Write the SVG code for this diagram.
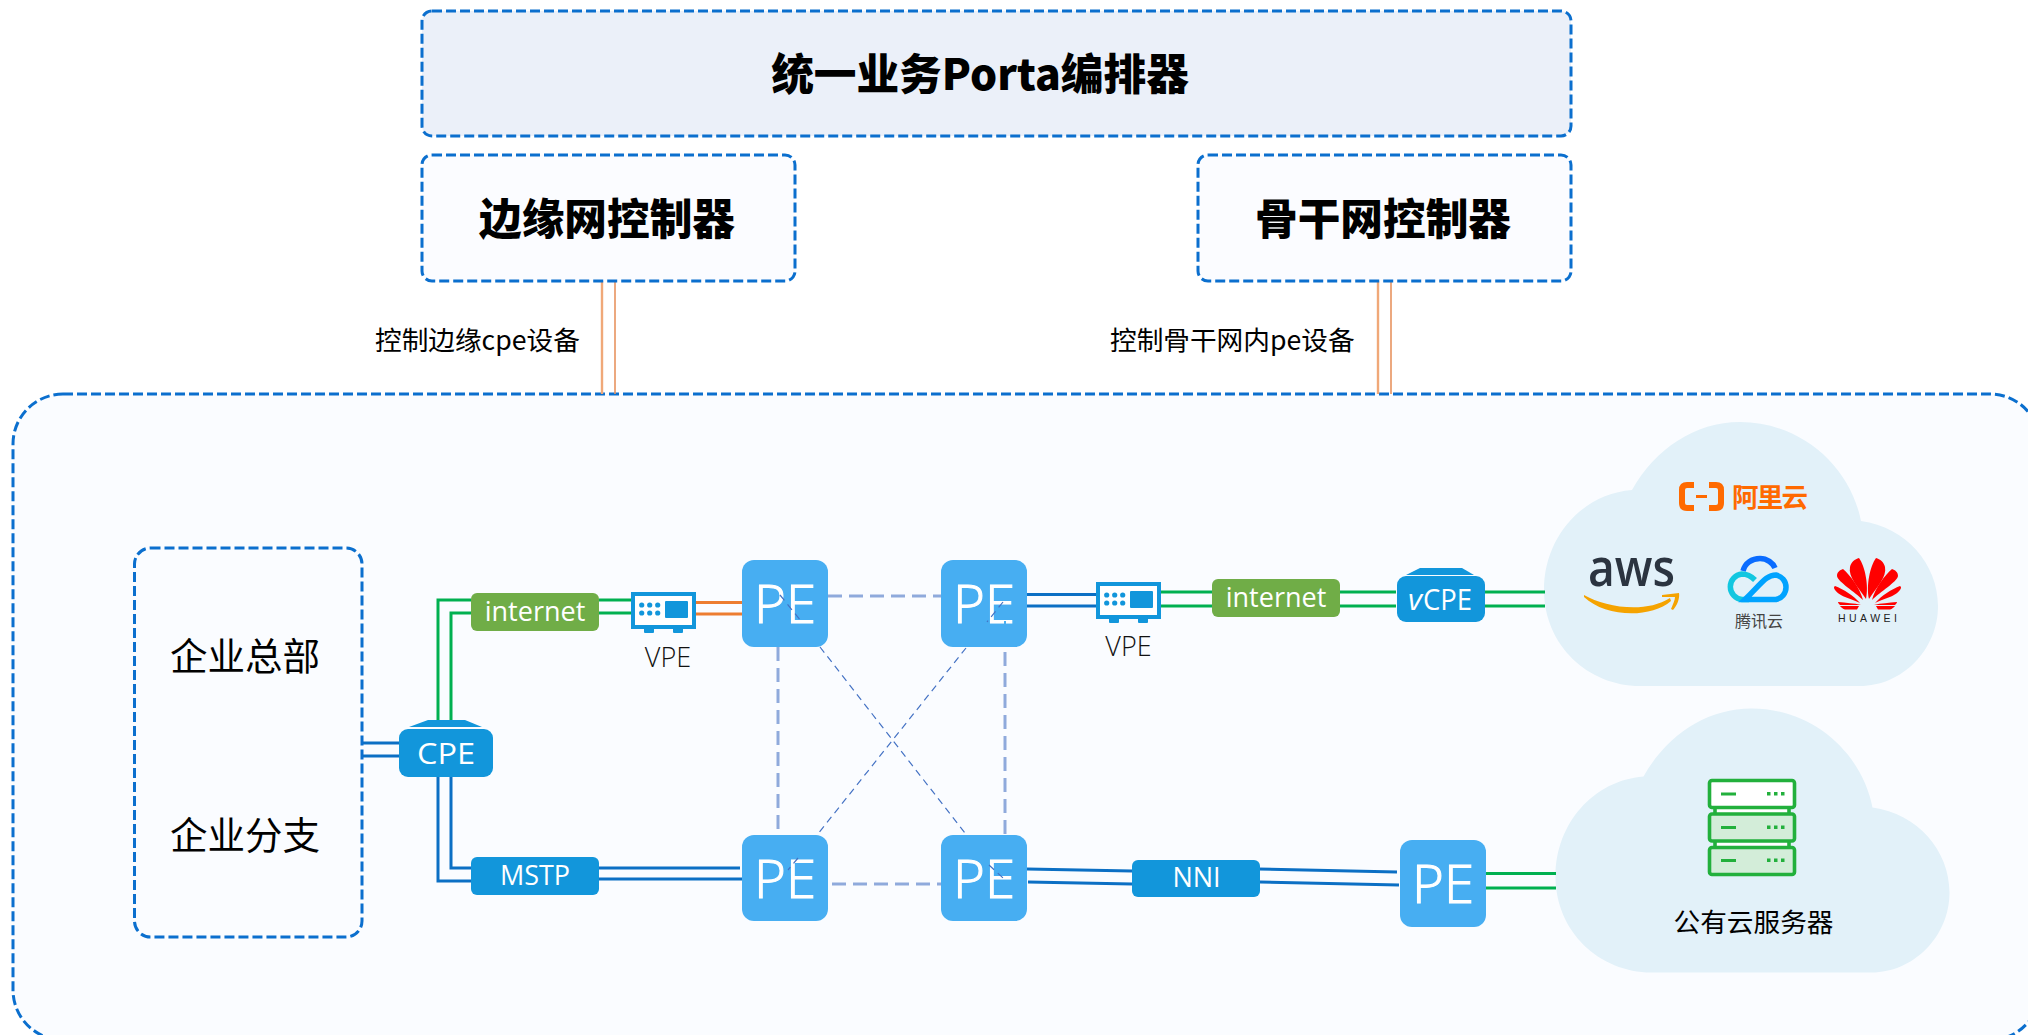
<svg xmlns="http://www.w3.org/2000/svg" width="2028" height="1035" viewBox="0 0 2028 1035">
<style>
text{font-family:"Noto Sans CJK SC","Noto Sans",sans-serif;fill:#000}
.box{stroke:#0b6fce;stroke-width:3;stroke-dasharray:10 4}
.title{font-size:42.67px;font-weight:900;text-anchor:middle}
.lab{font-size:26.67px;font-weight:400}
.big{font-size:37.5px;text-anchor:middle;font-weight:400}
.pill{font-family:"Open Sans","Noto Sans",sans-serif;font-size:27px;font-weight:400;fill:#fff;text-anchor:middle}
.vpe{font-family:"Open Sans","Noto Sans",sans-serif;font-size:27px;font-weight:300;fill:#111;text-anchor:middle}
.pe{fill:#47aef2}
.petxt{font-family:"Open Sans","Noto Sans",sans-serif;font-size:53px;font-weight:300;fill:#fff;stroke:#fff;stroke-width:1}
.cpetxt{font-family:"Open Sans","Noto Sans",sans-serif;font-size:30px;font-weight:400;fill:#fff}
.g{stroke:#00b050;stroke-width:3;fill:none}
.b{stroke:#0b6fc4;stroke-width:3;fill:none}
.o{stroke:#ed7d31;stroke-width:3;fill:none}
.d1{stroke:#8faadc;stroke-width:3;stroke-dasharray:14 7;fill:none}
.d2{stroke:#4472c4;stroke-width:1.2;stroke-dasharray:7 5;fill:none}
.blue{fill:#1296db}
.cloud{fill:#e2f1f9}
.srv{stroke:#22b03c;stroke-width:3.6}
.sg{fill:#22b03c}
</style>
<defs>
<path id="cloudp" d="M1640 686C1588 686 1544 645 1544 590C1544 537 1582 494 1632 490C1655 449 1695 422 1740 422C1800 422 1850 465 1861 521C1906 527 1938 564 1938 606C1938 650 1902 686 1860 686Z"/>
<g id="vpeicon">
<rect x="1098" y="584" width="61" height="33" fill="#fff" stroke="#1296db" stroke-width="4"/>
<rect x="1109" y="618" width="10" height="5" rx="1" class="blue"/><rect x="1138" y="618" width="10" height="5" rx="1" class="blue"/>
<rect x="1130" y="591" width="23" height="17" rx="1" class="blue"/>
<g class="blue"><circle cx="1106.7" cy="595" r="2.6"/><circle cx="1114.7" cy="595" r="2.6"/><circle cx="1122.7" cy="595" r="2.6"/><circle cx="1106.7" cy="603" r="2.6"/><circle cx="1114.7" cy="603" r="2.6"/><circle cx="1122.7" cy="603" r="2.6"/></g>
</g>
<g id="petals" fill="#f00">
<path d="M1866 599C1858 587 1848 577 1850 567C1851 562 1855 559 1859 558C1865 566 1869 586 1866 599Z"/>
<path d="M1863 600C1855 592 1838 582 1837 576C1837 572 1840 570 1843 569C1850 575 1860 588 1863 600Z"/>
<path d="M1860 603C1852 599 1837 596 1834 588C1834 587 1834 587 1835 586C1843 589 1854 596 1860 603Z"/>
<path d="M1861 605L1840 605C1839 604 1838 603 1838 602C1846 603 1854 603 1861 605ZM1857 609.500L1845 609.500C1843 609 1841 607 1840 606L1859 606Z"/>
</g>
</defs>

<rect width="2028" height="1035" fill="#fff"/>

<g id="bigzone"><rect class="box" x="13" y="394" width="2027" height="646" rx="50" fill="#fafcff"/></g>
<g id="cloud1"><use href="#cloudp" class="cloud"/></g>
<g id="cloud2"><use href="#cloudp" class="cloud" transform="translate(11.500 286.500)"/></g>

<g id="connectors">
<path d="M602 281V394" stroke="#f0a878" stroke-width="2.400" fill="none"/><path d="M615 281V394" stroke="#e8935f" stroke-width="1.600" fill="none"/>
<path d="M1378 281V394" stroke="#f0a878" stroke-width="2.400" fill="none"/><path d="M1391 281V394" stroke="#e8935f" stroke-width="1.600" fill="none"/>
<path class="g" d="M438 722V600H471M451 722V613H471M599 600H632M599 613H632"/>
<path class="o" d="M696 602.500H742M696 614H742"/>
<path class="b" d="M438 777V881H471M451 777V868H471M599 868H740M599 879H742M362 743H399M362 756H399"/>
<path class="b" d="M1027 594.500H1096M1027 606H1096"/>
<path class="g" d="M1158 592H1212M1158 606H1212M1340 592H1396M1340 606H1396M1484 592H1545M1484 606H1545"/>
<path class="b" d="M1027 869L1132 871M1028 882L1132 884M1258 869L1397 872M1260 882L1399 885"/>
<path class="g" d="M1486 873.500H1556M1486 888H1556"/>
<path class="d1" d="M828 596H941M832 884H941M778 647V835M1005 652V835"/>
<path class="d2" d="M820 647L965 833M966 648L817 835"/>
</g>

<g id="portal"><rect class="box" x="422" y="11" width="1149" height="125" rx="10" fill="#ebf0f9"/><text class="title" x="980" y="90">统一业务Porta编排器</text></g>
<g id="edgectl"><rect class="box" x="422" y="155" width="373" height="126" rx="10" fill="#fbfcff"/><text class="title" x="607" y="235">边缘网控制器</text></g>
<g id="corectl"><rect class="box" x="1198" y="155" width="373" height="126" rx="10" fill="#fbfcff"/><text class="title" x="1383" y="235">骨干网控制器</text></g>
<text class="lab" x="375" y="350">控制边缘cpe设备</text>
<text class="lab" x="1110" y="350">控制骨干网内pe设备</text>

<g id="site"><rect class="box" x="134.500" y="548" width="227.500" height="389" rx="16" fill="#fafcff"/><text class="big" x="245" y="670">企业总部</text><text class="big" x="245" y="849">企业分支</text></g>

<g id="cpe"><path class="blue" d="M409 727L428 720H465L482 727Z"/><rect class="blue" x="399" y="729" width="94" height="48" rx="9"/><text class="cpetxt" x="417" y="764" textLength="58" lengthAdjust="spacingAndGlyphs">CPE</text></g>
<g id="inet1"><rect x="471" y="593" width="128" height="38" rx="6" fill="#70ad47"/><text class="pill" x="535" y="621">internet</text></g>
<g id="mstp"><rect class="blue" x="471" y="857" width="128" height="38" rx="6"/><text class="pill" x="535" y="885">MSTP</text></g>
<g id="vpe1"><use href="#vpeicon" transform="translate(-465 10)"/><text class="vpe" x="668" y="667">VPE</text></g>
<g id="vpe2"><use href="#vpeicon"/><text class="vpe" x="1128.500" y="656">VPE</text></g>
<g id="pe1"><rect class="pe" x="742" y="560" width="86" height="87" rx="12"/><text class="petxt" x="754" y="623" textLength="62" lengthAdjust="spacingAndGlyphs">PE</text></g>
<g id="pe2"><rect class="pe" x="941" y="560" width="86" height="87" rx="12"/><text class="petxt" x="953" y="623" textLength="62" lengthAdjust="spacingAndGlyphs">PE</text></g>
<g id="pe3"><rect class="pe" x="742" y="835" width="86" height="86" rx="12"/><text class="petxt" x="754" y="898" textLength="62" lengthAdjust="spacingAndGlyphs">PE</text></g>
<g id="pe4"><rect class="pe" x="941" y="835" width="86" height="86" rx="12"/><text class="petxt" x="953" y="898" textLength="62" lengthAdjust="spacingAndGlyphs">PE</text></g>
<g id="pe5"><rect class="pe" x="1400" y="840" width="86" height="87" rx="12"/><text class="petxt" x="1412" y="903" textLength="62" lengthAdjust="spacingAndGlyphs">PE</text></g>
<g id="nni"><rect class="blue" x="1132" y="860" width="128" height="37" rx="6"/><text class="pill" x="1196.500" y="887">NNI</text></g>
<g id="inet2"><rect x="1212" y="579" width="128" height="38" rx="6" fill="#70ad47"/><text class="pill" x="1276" y="607">internet</text></g>
<g id="vcpe"><path class="blue" d="M1406 575L1420 568H1462L1474 575Z"/><rect class="blue" x="1397" y="576" width="88" height="46" rx="9"/><text class="cpetxt" x="1408" y="610" font-style="italic" font-weight="300" textLength="14" lengthAdjust="spacingAndGlyphs">v</text><text class="cpetxt" x="1423" y="610" textLength="49" lengthAdjust="spacingAndGlyphs">CPE</text></g>

<g id="through-lines" fill="none">
<path class="d2" d="M780 595L801 621M1003 602L987 622M989 865L1003 878M798 858L788 870"/>
<path stroke="#47aef2" stroke-width="2" d="M1005 610V614M1005 621V625"/>
</g>

<g id="aliyun">
<path fill="none" stroke="#ff6a00" stroke-width="6" d="M1694 485H1687Q1682 485 1682 490V503Q1682 508 1687 508H1694M1709 485H1716Q1721 485 1721 490V503Q1721 508 1716 508H1709"/>
<rect x="1696" y="495" width="11" height="3" fill="#ff6a00"/>
<text x="1732" y="507" font-size="26.500" font-weight="700" style="fill:#ff6a00" textLength="76">阿里云</text>
</g>
<g id="aws">
<text x="1588" y="586" font-size="52" font-weight="600" textLength="87" lengthAdjust="spacingAndGlyphs" style="font-family:'Open Sans','Noto Sans',sans-serif;fill:#2b3440">aws</text>
<path fill="#f5a300" d="M1584 595C1605 607 1645 614 1670 598L1671 601C1650 619 1605 617 1584 597ZM1662 595L1679 593C1680 598 1677 606 1673 610L1671 609C1673 604 1675 600 1675 597L1662 597Z"/>
</g>
<g id="tencent" fill="none" stroke-width="5.500">
<path stroke="#0a6cff" d="M1743 571C1745 563 1752 558.500 1760 558.500C1767 558.500 1773 563 1775 568"/>
<path stroke="#12c7e0" d="M1755 580C1750 575 1746 574 1742 574A12.800 12.800 0 0 0 1742 599.500H1749"/>
<path stroke="#00a3ff" d="M1745 599.500H1776A12.500 12.500 0 0 0 1776 575C1766 575 1762 583 1745 599.500Z"/>
<text x="1735" y="627" font-size="16" style="fill:#444" stroke="none" textLength="48">腾讯云</text>
</g>
<g id="huawei">
<use href="#petals"/><use href="#petals" transform="matrix(-1 0 0 1 3735 0)"/>
<text x="1838" y="621.500" font-size="10.500" style="font-family:'Liberation Sans',sans-serif;fill:#222" textLength="59">HUAWEI</text>
</g>
<g id="server">
<rect x="1715" y="806" width="74" height="9" fill="#fff" class="srv"/><rect x="1715" y="840" width="74" height="8" fill="#fff" class="srv"/>
<rect class="srv" x="1709.500" y="780.500" width="85" height="27" rx="2.500" fill="#fff"/>
<rect class="srv" x="1709.500" y="814" width="85" height="27" rx="2.500" fill="#d3edd9"/>
<rect class="srv" x="1709.500" y="847.500" width="85" height="27" rx="2.500" fill="#d3edd9"/>
<g class="sg">
<rect x="1721" y="792.500" width="15" height="3"/><rect x="1767" y="792" width="3.500" height="3.500"/><rect x="1774" y="792" width="3.500" height="3.500"/><rect x="1781" y="792" width="3.500" height="3.500"/>
<rect x="1721" y="826" width="15" height="3"/><rect x="1767" y="825.500" width="3.500" height="3.500"/><rect x="1774" y="825.500" width="3.500" height="3.500"/><rect x="1781" y="825.500" width="3.500" height="3.500"/>
<rect x="1721" y="859" width="15" height="3"/><rect x="1767" y="858.500" width="3.500" height="3.500"/><rect x="1774" y="858.500" width="3.500" height="3.500"/><rect x="1781" y="858.500" width="3.500" height="3.500"/>
</g>
<text x="1753.500" y="932" font-size="26.670" text-anchor="middle">公有云服务器</text>
</g>
</svg>
